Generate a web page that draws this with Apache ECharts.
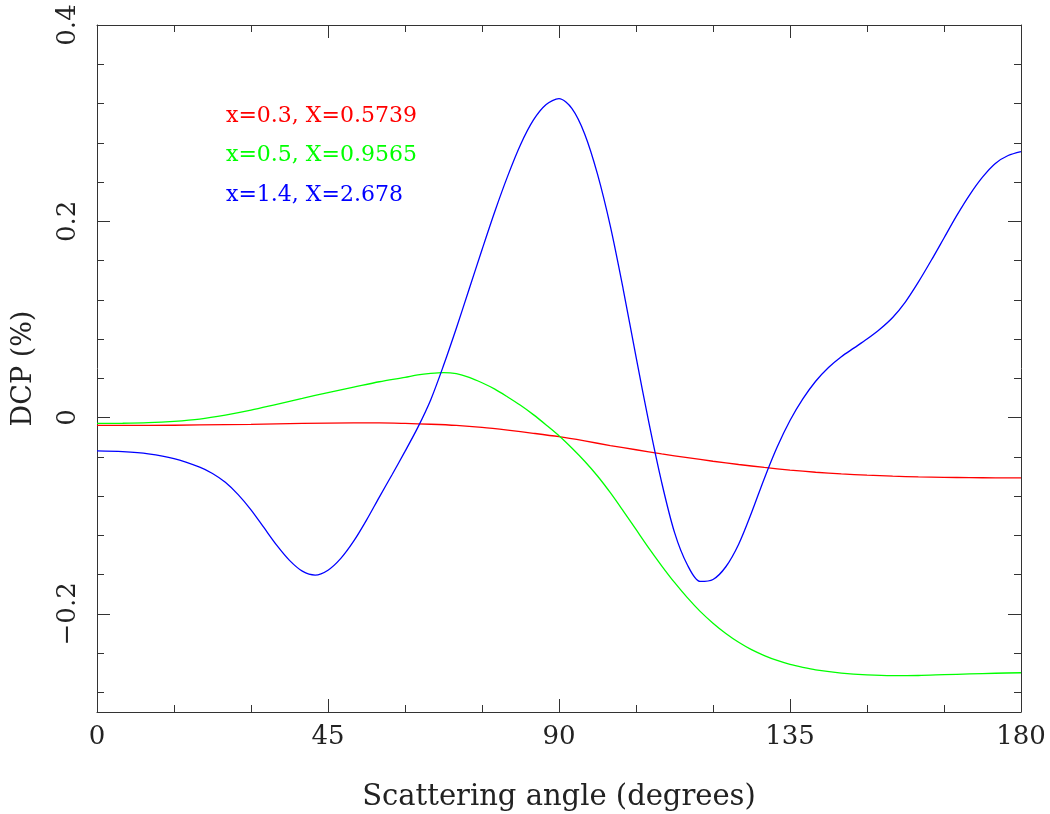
<!DOCTYPE html>
<html>
<head>
<meta charset="utf-8">
<script src="https://cdn.jsdelivr.net/npm/echarts@6/dist/echarts.min.js"></script>
<style>html,body{margin:0;padding:0;background:#fff}#c{width:1050px;height:814px}</style>
</head>
<body>
<div id="c"></div>
<script>
// Tick labels and tick positions
const xMajorTicks = [0, 45, 90, 135, 180];
const yLabelValues = [-0.2, 0, 0.2, 0.4];
const yMinorTicks = [-0.28, -0.24, -0.16, -0.12, -0.08, -0.04, 0.04, 0.08, 0.12, 0.16, 0.24, 0.28, 0.32, 0.36];

// Series names
const seriesNames = ['x=0.3, X=0.5739', 'x=0.5, X=0.9565', 'x=1.4, X=2.678'];

// Red: x=0.3  [angle, DCP]
const redData = [[0,-0.008],[10,-0.008],[20,-0.0075],[30,-0.007],[40,-0.006],[50,-0.0055],[55,-0.0055],[60,-0.006],[65,-0.0068],[70,-0.008],[75,-0.010],[80,-0.0128],[85,-0.016],[90,-0.0195],[95,-0.0238],[100,-0.0285],[105,-0.0328],[110,-0.0370],[115,-0.0408],[120,-0.0445],[125,-0.0478],[130,-0.0508],[135,-0.0535],[140,-0.0557],[145,-0.0574],[150,-0.0587],[155,-0.0597],[160,-0.0604],[165,-0.0609],[170,-0.0612],[175,-0.0614],[180,-0.0615]];

// Green: x=0.5
const greenData = [[0,-0.006],[5,-0.0058],[10,-0.0052],[15,-0.0038],[20,-0.0015],[25,0.0025],[30,0.0075],[35,0.0135],[40,0.0195],[45,0.0255],[50,0.031],[55,0.0365],[60,0.041],[62.5,0.0435],[65,0.0450],[67.5,0.0458],[70,0.0447],[72.5,0.0410],[75,0.0355],[77.5,0.029],[80,0.021],[82.5,0.0125],[85,0.003],[87.5,-0.0075],[90,-0.0185],[92.5,-0.031],[95,-0.0445],[97.5,-0.0595],[100,-0.0765],[102.5,-0.095],[105,-0.114],[107.5,-0.133],[110,-0.151],[112.5,-0.168],[115,-0.1835],[117.5,-0.1975],[120,-0.2095],[122.5,-0.220],[125,-0.229],[127.5,-0.2365],[130,-0.2425],[132.5,-0.2475],[135,-0.2515],[137.5,-0.2545],[140,-0.257],[145,-0.2603],[150,-0.2622],[155,-0.263],[160,-0.2628],[165,-0.262],[170,-0.2612],[175,-0.2605],[180,-0.260]];

// Blue: x=1.4
const blueData = [[0,-0.034],[5,-0.0348],[10,-0.037],[15,-0.0418],[20,-0.0505],[22.5,-0.057],[25,-0.066],[27.5,-0.0785],[30,-0.094],[32.5,-0.112],[35,-0.130],[37.5,-0.1455],[40,-0.1565],[42.5,-0.1605],[45,-0.1555],[47.5,-0.1435],[50,-0.126],[52.5,-0.1045],[55,-0.081],[57.5,-0.058],[60,-0.0345],[62.5,-0.010],[65,0.018],[67.5,0.053],[70,0.091],[72.5,0.131],[75,0.171],[77.5,0.210],[80,0.246],[82.5,0.278],[85,0.303],[87.5,0.319],[90,0.325],[92.5,0.315],[95,0.289],[97.5,0.248],[100,0.195],[102.5,0.131],[105,0.062],[107.5,-0.005],[110,-0.066],[112.5,-0.117],[115,-0.150],[117.5,-0.167],[120,-0.165],[122.5,-0.152],[125,-0.129],[127.5,-0.097],[130,-0.062],[132.5,-0.030],[135,-0.003],[137.5,0.019],[140,0.037],[142.5,0.051],[145,0.062],[147.5,0.071],[150,0.080],[152.5,0.090],[155,0.102],[157.5,0.118],[160,0.138],[162.5,0.160],[165,0.183],[167.5,0.206],[170,0.227],[172.5,0.245],[175,0.259],[177.5,0.267],[180,0.271]];

const colors = ['#ff0000', '#00ff00', '#0000ff'];
const FONT = 'DejaVu Serif';
const AX = '#333';

const chart = echarts.init(document.getElementById('c'), null, {renderer: 'canvas'});

function xAx(pos, labels) {
  return {
    type: 'value', position: pos, min: 0, max: 180, interval: 45,
    name: labels ? 'Scattering angle (degrees)' : '',
    nameLocation: 'middle', nameGap: 71,
    nameTextStyle: {fontFamily: FONT, fontSize: 29, color: '#222'},
    axisLine: {show: true, onZero: false, lineStyle: {color: AX, width: 1}},
    axisTick: {show: true, inside: true, length: 13, lineStyle: {color: AX}},
    minorTick: {show: true, splitNumber: 3, length: 7, lineStyle: {color: AX}},
    axisLabel: {show: labels, margin: 12, fontFamily: FONT, fontSize: 26, color: '#222'},
    splitLine: {show: false}
  };
}
function yMinor(pos) {
  return {
    type: 'value', position: pos, min: -0.3, max: 0.4,
    axisLine: {show: true, onZero: false, lineStyle: {color: AX, width: 1}},
    axisTick: {show: true, inside: true, length: 7, customValues: yMinorTicks, lineStyle: {color: AX}},
    axisLabel: {show: false},
    splitLine: {show: false}
  };
}
function yMajor(pos, labels) {
  return {
    type: 'value', position: pos, min: -0.3, max: 0.4,
    name: labels ? 'DCP (%)' : '',
    nameLocation: 'middle', nameGap: 60,
    nameTextStyle: {fontFamily: FONT, fontSize: 27, color: '#222'},
    axisLine: {show: false, onZero: false},
    axisTick: {show: true, inside: true, length: 13, customValues: yLabelValues, lineStyle: {color: AX}},
    axisLabel: {show: labels, customValues: yLabelValues, rotate: 90, margin: 16,
      fontFamily: FONT, fontSize: 26, color: '#222',
      formatter: v => (Math.abs(v) < 1e-9 ? '0' : String(+v.toFixed(1)).replace('-', '\u2212'))},
    splitLine: {show: false}
  };
}

const option = {
  backgroundColor: '#fff',
  animation: false,
  grid: {left: 97, right: 29, top: 25, bottom: 102, containLabel: false, outerBoundsMode: 'none'},
  xAxis: [xAx('bottom', true), xAx('top', false)],
  yAxis: [yMinor('left'), yMajor('left', true), yMinor('right'), yMajor('right', false)],
  series: [redData, greenData, blueData].map((d, i) => ({
    name: seriesNames[i], type: 'line', data: d, xAxisIndex: 0, yAxisIndex: 0,
    showSymbol: false, smooth: 0.3, clip: true,
    lineStyle: {color: colors[i], width: 1.3}
  })),
  graphic: seriesNames.map((n, i) => ({
    type: 'text', left: 226, top: 105 + i * 39.5,
    style: {text: n, fill: colors[i], font: '22px "' + FONT + '"'}
  }))
};
chart.setOption(option);
</script>
</body>
</html>
